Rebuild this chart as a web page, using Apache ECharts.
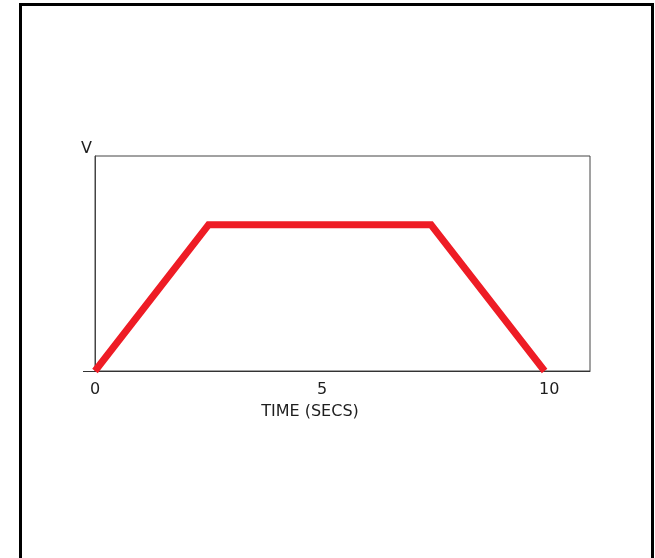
<!DOCTYPE html>
<html>
<head>
<meta charset="utf-8">
<script src="https://cdn.jsdelivr.net/npm/echarts@6/dist/echarts.min.js"></script>
<style>
  html, body {
    margin: 0;
    padding: 0;
    background: #fff;
    overflow: hidden;
  }
  .frame {
    position: absolute;
    left: 19px;
    top: 3px;
    width: 629px;
    height: 600px;
    border: 3px solid #000;
    border-bottom: none;
    z-index: 2;
    pointer-events: none;
  }
  #chart {
    width: 655px;
    height: 558px;
  }
</style>
</head>
<body>
<div class="frame"></div>
<div id="chart"></div>
<script>
// profile corners (time in secs, relative V)
const timeVals = [0, 2.5, 7.4, 9.9]
const voltVals = [0, 0.68, 0.68, 0]
const xTicks = [0, 5, 10]

const font = "DejaVu Sans"
const textColor = "#1e1e1e"

const mychart = echarts.init(document.getElementById("chart"))

const option = {
  animation: false,
  grid: {
    left: 95,
    right: 65,
    top: 156,
    bottom: 187,
    show: true,
    borderColor: "#444",
    borderWidth: 1
  },
  xAxis: {
    type: "value",
    min: 0,
    max: 10.9,
    name: "TIME (SECS)",
    nameLocation: "middle",
    nameGap: 33,
    nameTextStyle: {
      fontFamily: font,
      fontSize: 16,
      color: textColor,
      padding: [0, 65, 0, 0]
    },
    axisLine: { lineStyle: { color: "#333", width: 1 } },
    axisTick: { show: false },
    splitLine: { show: false },
    axisLabel: {
      customValues: xTicks,
      margin: 11,
      fontFamily: font,
      fontSize: 16,
      color: textColor
    }
  },
  yAxis: {
    type: "value",
    min: 0,
    max: 1,
    name: "V",
    nameLocation: "end",
    nameGap: -1,
    nameTextStyle: {
      fontFamily: font,
      fontSize: 16,
      color: textColor,
      align: "right",
      padding: [0, 3, 0, 0]
    },
    axisLine: { show: true, lineStyle: { color: "#444", width: 1 } },
    axisTick: { show: false },
    axisLabel: { show: false },
    splitLine: { show: false }
  },
  graphic: [
    {
      // short stub of the time axis left of the plot box
      type: "line",
      shape: { x1: 83, y1: 371.5, x2: 95, y2: 371.5 },
      style: { stroke: "#333", lineWidth: 1 }
    }
  ],
  series: [
    {
      type: "line",
      data: timeVals.map((t, i) => [t, voltVals[i]]),
      symbol: "none",
      lineStyle: { color: "#ee1c25", width: 7, join: "miter" }
    }
  ]
}
mychart.setOption(option)
</script>
</body>
</html>
